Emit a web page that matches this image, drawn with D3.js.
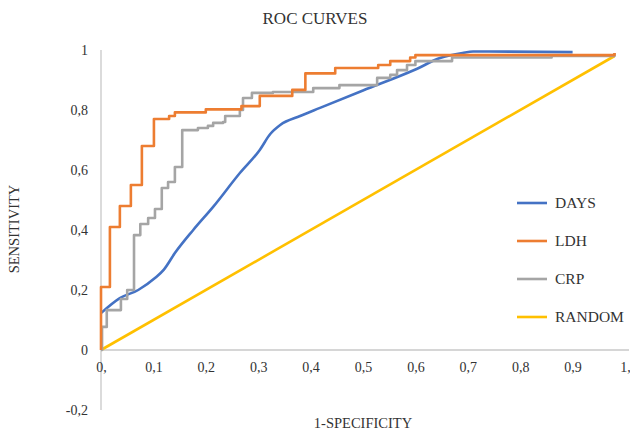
<!DOCTYPE html>
<html>
<head>
<meta charset="utf-8">
<script src="https://cdn.jsdelivr.net/npm/d3@7"></script>
<style>
	body { margin: 0; background: #fff; }
	#chartDiv { width: 630px; height: 432px; }
	text { font-family: "Liberation Serif", "Times New Roman", serif; fill: #333; }
</style>
</head>
<body>
<div id="chartDiv"></div>
<script>
// tick values + labels (excel style decimal comma)
const xTickVals = [0, 0.1, 0.2, 0.3, 0.4, 0.5, 0.6, 0.7, 0.8, 0.9, 1];
const xTickLabels = ['0,', '0,1', '0,2', '0,3', '0,4', '0,5', '0,6', '0,7', '0,8', '0,9', '1,'];
const yTickVals = [-0.2, 0, 0.2, 0.4, 0.6, 0.8, 1];
const yTickLabels = ['-0,2', '0', '0,2', '0,4', '0,6', '0,8', '1'];

const seriesNames = ['DAYS', 'LDH', 'CRP', 'RANDOM'];
const seriesColors = ['#4472C4', '#ED7D31', '#A5A5A5', '#FFC000'];

// smooth curve, [fpr, tpr]
const daysPoints = [
	[0, 0.123], [0.036, 0.173], [0.071, 0.2], [0.103, 0.24], [0.12, 0.268],
	[0.141, 0.323], [0.176, 0.40], [0.214, 0.477], [0.265, 0.59], [0.303, 0.667],
	[0.323, 0.72], [0.342, 0.75], [0.38, 0.78], [0.418, 0.807], [0.5, 0.865],
	[0.6, 0.935], [0.647, 0.973], [0.69, 0.99], [0.71, 0.995], [0.9, 0.993]
];

// step curves, [fpr where the jump happens, tpr after jump]
const ldhPoints = [
	[0, 0], [0, 0.21], [0.017, 0.41], [0.036, 0.48], [0.057, 0.55], [0.078, 0.68],
	[0.101, 0.77], [0.13, 0.78], [0.141, 0.792], [0.2, 0.802], [0.268, 0.813],
	[0.303, 0.847], [0.365, 0.867], [0.39, 0.922], [0.447, 0.94], [0.529, 0.95],
	[0.552, 0.963], [0.59, 0.975], [0.6, 0.983], [0.98, 0.99]
];

const crpPoints = [
	[0, 0], [0.002, 0.077], [0.011, 0.133], [0.038, 0.17], [0.05, 0.2], [0.063, 0.383],
	[0.075, 0.42], [0.09, 0.44], [0.103, 0.47], [0.116, 0.54], [0.128, 0.56],
	[0.141, 0.61], [0.155, 0.733], [0.185, 0.74], [0.204, 0.747], [0.214, 0.757],
	[0.233, 0.76], [0.237, 0.78], [0.265, 0.80], [0.271, 0.84], [0.288, 0.857],
	[0.328, 0.86], [0.405, 0.873], [0.455, 0.883], [0.527, 0.907], [0.552, 0.917],
	[0.565, 0.933], [0.584, 0.95], [0.6, 0.963], [0.67, 0.975], [0.86, 0.98], [0.98, 0.99]
];

const randomPoints = [[0, 0], [0.98, 0.98]];

function buildChart(){
	const chartDiv = document.getElementById('chartDiv');
	const w = chartDiv.clientWidth, h = chartDiv.clientHeight;

	const svg = d3.select(chartDiv).append('svg')
		.attr('width', w)
		.attr('height', h);

	const xScale = d3.scaleLinear().domain([0, 1]).range([101, 625]);
	const yScale = d3.scaleLinear().domain([-0.2, 1]).range([410, 50]);

	// axis lines
	svg.append('line')
		.attr('x1', xScale(0)).attr('x2', 629)
		.attr('y1', yScale(0)).attr('y2', yScale(0))
		.attr('stroke', '#c8c8c8').attr('stroke-width', 1.3);
	svg.append('line')
		.attr('x1', xScale(0)).attr('x2', xScale(0))
		.attr('y1', yScale(1)).attr('y2', yScale(-0.2))
		.attr('stroke', '#c8c8c8').attr('stroke-width', 1.3);

	// tick labels via axes, no tick marks / domain
	const xAxis = d3.axisBottom(xScale)
		.tickValues(xTickVals)
		.tickFormat((d, i) => xTickLabels[i])
		.tickSize(0).tickPadding(12);
	const xG = svg.append('g')
		.attr('transform', `translate(0, ${yScale(0)})`)
		.call(xAxis);

	const yAxis = d3.axisLeft(yScale)
		.tickValues(yTickVals)
		.tickFormat((d, i) => yTickLabels[i])
		.tickSize(0).tickPadding(13);
	const yG = svg.append('g')
		.attr('transform', `translate(${xScale(0)}, 0)`)
		.call(yAxis);

	[xG, yG].forEach(g => {
		g.select('.domain').remove();
		g.selectAll('text')
			.attr('font-family', '"Liberation Serif", "Times New Roman", serif')
			.attr('font-size', 14)
			.attr('fill', '#333');
	});

	// curves
	const lineStep = d3.line()
		.x(d => xScale(d[0])).y(d => yScale(d[1]))
		.curve(d3.curveStepAfter);
	const lineSmooth = d3.line()
		.x(d => xScale(d[0])).y(d => yScale(d[1]))
		.curve(d3.curveMonotoneX);
	const lineStraight = d3.line()
		.x(d => xScale(d[0])).y(d => yScale(d[1]));

	const curves = [
		{ pts: daysPoints, gen: lineSmooth },
		{ pts: ldhPoints, gen: lineStep },
		{ pts: crpPoints, gen: lineStep },
		{ pts: randomPoints, gen: lineStraight }
	];
	// draw random first, then days, crp, ldh on top
	[3, 0, 2, 1].forEach(i => {
		svg.append('path')
			.attr('d', curves[i].gen(curves[i].pts))
			.attr('fill', 'none')
			.attr('stroke', seriesColors[i])
			.attr('stroke-width', 2.6)
			.attr('stroke-linejoin', 'round');
	});

	// title + axis titles
	svg.append('text')
		.attr('x', 315).attr('y', 24)
		.attr('text-anchor', 'middle')
		.attr('font-size', 17)
		.text('ROC CURVES');

	svg.append('text')
		.attr('x', 363).attr('y', 428)
		.attr('text-anchor', 'middle')
		.attr('font-size', 14.5)
		.text('1-SPECIFICITY');

	svg.append('text')
		.attr('transform', 'translate(19, 229) rotate(-90)')
		.attr('text-anchor', 'middle')
		.attr('font-size', 14.5)
		.text('SENSITIVITY');

	// legend
	const legend = svg.append('g').attr('transform', 'translate(517, 203)');
	seriesNames.forEach((name, i) => {
		const row = legend.append('g').attr('transform', `translate(0, ${i * 38})`);
		row.append('line')
			.attr('x1', 0).attr('x2', 30)
			.attr('y1', 0).attr('y2', 0)
			.attr('stroke', seriesColors[i])
			.attr('stroke-width', 2.6);
		row.append('text')
			.attr('x', 38).attr('y', 5)
			.attr('font-size', 15.5)
			.text(name);
	});
}

buildChart();
</script>
</body>
</html>
